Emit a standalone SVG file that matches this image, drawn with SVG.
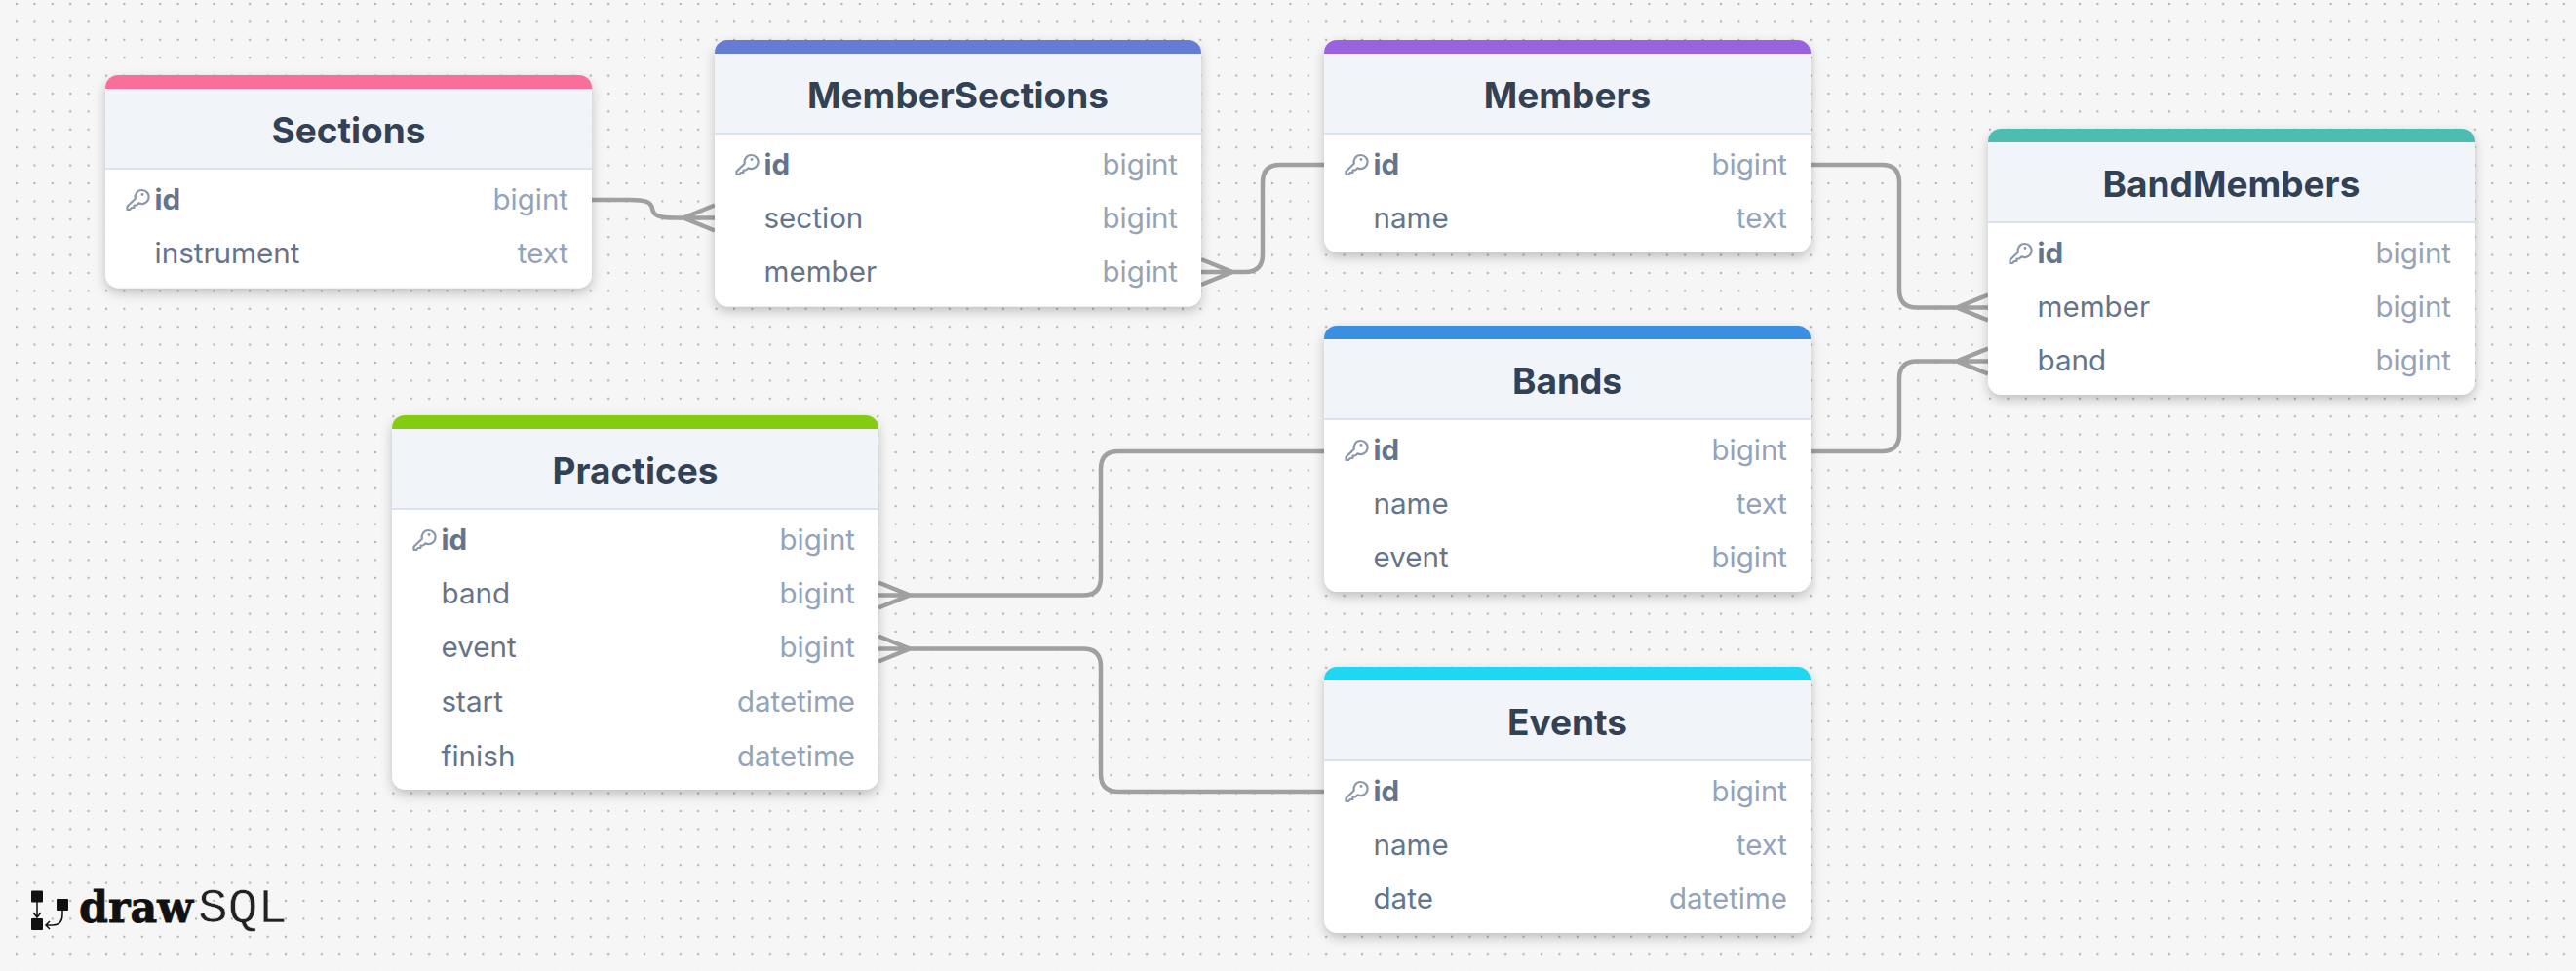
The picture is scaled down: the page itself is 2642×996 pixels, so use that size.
<svg xmlns="http://www.w3.org/2000/svg" width="2642" height="996" viewBox="0 0 2642 996">
<style>
text{font-family:Inter,"Noto Sans","Liberation Sans",sans-serif}
.card{fill:#fff;filter:url(#sh)}
.hd{fill:#f1f5f9}
.ln{stroke:#dbe3ee;stroke-width:2}
.t{font-size:37px;font-weight:700;fill:#334155;text-anchor:middle}
.n{font-size:29.600px;fill:#64748b}
.pk{font-weight:700}
.ty{font-size:29.500px;fill:#94a3b8;text-anchor:end}
.c{fill:none;stroke:#a0a0a0;stroke-width:4.500}
.k{fill:none;stroke:#8a98aa;stroke-width:2.200;stroke-linejoin:round}
</style>
<defs>
<pattern id="dots" x="17" y="4" width="18.4" height="18.4" patternUnits="userSpaceOnUse"><circle cx="0" cy="0" r="1.200" fill="#b4b4b4"/><circle cx="18.4" cy="0" r="1.200" fill="#b4b4b4"/><circle cx="0" cy="18.4" r="1.200" fill="#b4b4b4"/><circle cx="18.4" cy="18.4" r="1.200" fill="#b4b4b4"/></pattern>
<filter id="sh" x="-10%" y="-10%" width="120%" height="125%"><feDropShadow dx="0" dy="5" stdDeviation="6" flood-color="#000" flood-opacity=".22"/></filter>
<g id="key"><path class="k" d="M9.3 9.800A7 7 0 1 1 13 14.300L10.500 16.500H8V19H5.500L3.500 21H1V17.800Z"/><circle cx="16.500" cy="5.500" r="1.400" fill="#8a98aa"/></g>
<path id="bar" d="M0 14V13A13 13 0 0 1 13 0H486A13 13 0 0 1 499 13V14Z"/>
</defs>
<rect width="2642" height="996" fill="#f6f6f6"/>
<rect width="2642" height="996" fill="url(#dots)"/>
<g id="connectors" class="c">
<path class="c" d="M606 205H646C662 205 668 207 669 214C670 221 676 223.500 692 223.500H733M733 210.500L701 223.500L733 236.500"/>
<path class="c" d="M1232 279H1277Q1295 279 1295 261V187Q1295 169 1313 169H1358M1232 266L1264 279L1232 292"/>
<path class="c" d="M1857 169H1930Q1948 169 1948 187V297.500Q1948 315.500 1966 315.500H2039M2039 302.500L2007 315.500L2039 328.500"/>
<path class="c" d="M1857 463H1930Q1948 463 1948 445V388.500Q1948 370.500 1966 370.500H2039M2039 357.500L2007 370.500L2039 383.500"/>
<path class="c" d="M901 610.500H1111Q1129 610.500 1129 592.500V481Q1129 463 1147 463H1358M901 597.500L933 610.500L901 623.500"/>
<path class="c" d="M901 665.500H1111Q1129 665.500 1129 683.500V794Q1129 812 1147 812H1358M901 652.500L933 665.500L901 678.500"/>
</g>
<g id="Sections" transform="translate(108 77)">
<rect class="card" width="499" height="218.500" rx="14"/><rect class="hd" y="14" width="499" height="82"/><use href="#bar" fill="#f96e9b"/><line class="ln" y1="96" x2="499" y2="96"/>
<text class="t" x="249.500" y="70">Sections</text>
<use href="#key" x="21.500" y="117"/><text class="n pk" x="50.500" y="138">id</text><text class="ty" x="475" y="138">bigint</text>
<text class="n" x="50.500" y="193">instrument</text><text class="ty" x="475" y="193">text</text>
</g>
<g id="MemberSections" transform="translate(733 41)">
<rect class="card" width="499" height="273.500" rx="14"/><rect class="hd" y="14" width="499" height="82"/><use href="#bar" fill="#667bd3"/><line class="ln" y1="96" x2="499" y2="96"/>
<text class="t" x="249.500" y="70">MemberSections</text>
<use href="#key" x="21.500" y="117"/><text class="n pk" x="50.500" y="138">id</text><text class="ty" x="475" y="138">bigint</text>
<text class="n" x="50.500" y="193">section</text><text class="ty" x="475" y="193">bigint</text>
<text class="n" x="50.500" y="248">member</text><text class="ty" x="475" y="248">bigint</text>
</g>
<g id="Members" transform="translate(1358 41)">
<rect class="card" width="499" height="218" rx="14"/><rect class="hd" y="14" width="499" height="82"/><use href="#bar" fill="#9b62e0"/><line class="ln" y1="96" x2="499" y2="96"/>
<text class="t" x="249.500" y="70">Members</text>
<use href="#key" x="21.500" y="117"/><text class="n pk" x="50.500" y="138">id</text><text class="ty" x="475" y="138">bigint</text>
<text class="n" x="50.500" y="193">name</text><text class="ty" x="475" y="193">text</text>
</g>
<g id="BandMembers" transform="translate(2039 132)">
<rect class="card" width="499" height="273" rx="14"/><rect class="hd" y="14" width="499" height="82"/><use href="#bar" fill="#4dbdb1"/><line class="ln" y1="96" x2="499" y2="96"/>
<text class="t" x="249.500" y="70">BandMembers</text>
<use href="#key" x="21.500" y="117"/><text class="n pk" x="50.500" y="138">id</text><text class="ty" x="475" y="138">bigint</text>
<text class="n" x="50.500" y="193">member</text><text class="ty" x="475" y="193">bigint</text>
<text class="n" x="50.500" y="248">band</text><text class="ty" x="475" y="248">bigint</text>
</g>
<g id="Bands" transform="translate(1358 334)">
<rect class="card" width="499" height="273" rx="14"/><rect class="hd" y="14" width="499" height="82"/><use href="#bar" fill="#3a8fdf"/><line class="ln" y1="96" x2="499" y2="96"/>
<text class="t" x="249.500" y="70">Bands</text>
<use href="#key" x="21.500" y="117"/><text class="n pk" x="50.500" y="138">id</text><text class="ty" x="475" y="138">bigint</text>
<text class="n" x="50.500" y="193">name</text><text class="ty" x="475" y="193">text</text>
<text class="n" x="50.500" y="248">event</text><text class="ty" x="475" y="248">bigint</text>
</g>
<g id="Practices" transform="translate(402 426)">
<rect class="card" width="499" height="384" rx="14"/><rect class="hd" y="14" width="499" height="82"/><use href="#bar" fill="#84cc12"/><line class="ln" y1="96" x2="499" y2="96"/>
<text class="t" x="249.500" y="70">Practices</text>
<use href="#key" x="21.500" y="117"/><text class="n pk" x="50.500" y="138">id</text><text class="ty" x="475" y="138">bigint</text>
<text class="n" x="50.500" y="193">band</text><text class="ty" x="475" y="193">bigint</text>
<text class="n" x="50.500" y="248">event</text><text class="ty" x="475" y="248">bigint</text>
<text class="n" x="50.500" y="304">start</text><text class="ty" x="475" y="304">datetime</text>
<text class="n" x="50.500" y="359.500">finish</text><text class="ty" x="475" y="359.500">datetime</text>
</g>
<g id="Events" transform="translate(1358 684)">
<rect class="card" width="499" height="273" rx="14"/><rect class="hd" y="14" width="499" height="82"/><use href="#bar" fill="#1fd6f3"/><line class="ln" y1="96" x2="499" y2="96"/>
<text class="t" x="249.500" y="70">Events</text>
<use href="#key" x="21.500" y="117"/><text class="n pk" x="50.500" y="138">id</text><text class="ty" x="475" y="138">bigint</text>
<text class="n" x="50.500" y="193">name</text><text class="ty" x="475" y="193">text</text>
<text class="n" x="50.500" y="248">date</text><text class="ty" x="475" y="248">datetime</text>
</g>
<g id="logo">
<rect x="32" y="913.500" width="12" height="12" rx="1" fill="#111"/><rect x="32" y="942" width="12" height="12" rx="1" fill="#111"/><rect x="58" y="922" width="12" height="12" rx="1" fill="#111"/>
<path d="M38 925V940M34 936L38 941L42 936M64 933V938Q64 949 54 949H47M51 945L47 949L51 953" fill="none" stroke="#111" stroke-width="1.500"/>
<text x="81" y="946" font-size="45" font-weight="700" textLength="117" lengthAdjust="spacingAndGlyphs" fill="#111" stroke="#111" stroke-width=".8" style="font-family:'DejaVu Serif',serif">draw</text>
<text x="203" y="946" font-size="50" textLength="92" lengthAdjust="spacingAndGlyphs" fill="#222" stroke="#f6f6f6" stroke-width=".5" style="font-family:'Liberation Mono',monospace">SQL</text>
</g>
</svg>
